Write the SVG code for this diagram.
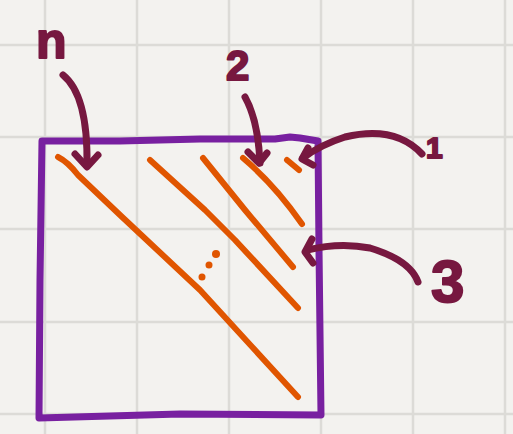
<svg xmlns="http://www.w3.org/2000/svg" width="513" height="434" viewBox="0 0 513 434">
<style>
.grid{stroke:#dcdbd7;stroke-width:2.5;fill:none}
.box{stroke:#7820a0;stroke-width:7;fill:none;stroke-linejoin:round;stroke-linecap:round}
.diag{stroke:#e05500;stroke-width:6;fill:none;stroke-linecap:round;stroke-linejoin:round}
.arr{stroke:#771840;stroke-width:7;fill:none;stroke-linecap:round;stroke-linejoin:round}
.lbl{font-family:"Liberation Sans",Arial,sans-serif;font-weight:bold;fill:#771840;stroke:#771840;stroke-width:2;stroke-linejoin:round}
</style>
<rect width="513" height="434" fill="#f3f2ef"/>
<g id="grid" class="grid">
<path d="M45 0V434M137 0V434M229 0V434M321 0V434M413 0V434M505 0V434"/>
<path d="M0 45H513M0 137H513M0 229H513M0 322H513M0 414H513"/>
</g>
<g id="matrix">
<path class="box" d="M42 141L120 141L200 139L275 139L290 137L300 138L318 141L319 250L321 415L180 414L39 418L40 280Z"/>
</g>
<g id="diagonals" class="diag">
<path d="M58 157Q68 162 78 175L120 215L200 290L298 397"/>
<path d="M150 160L205 210L235 240L298 308"/>
<path d="M203 158L245 210L293 267"/>
<path d="M243 158Q275 185 302 224"/>
<path d="M287 160L299 170"/>
</g>
<g id="dots" fill="#e05500">
<circle cx="216" cy="254" r="4"/>
<circle cx="209" cy="265" r="3.5"/>
<circle cx="202" cy="277" r="3.5"/>
</g>
<g id="connectors" class="arr">
<path d="M63 75Q88 95 87 165"/>
<path d="M75 154L87 167L98 155"/>
<path d="M245 97Q258 120 260 163"/>
<path d="M248 152L259 163L267 153"/>
<path d="M422 154Q395 125 345 137Q320 145 303 158"/>
<path d="M308 148L302 159L313 165"/>
<path d="M418 282Q410 260 370 248Q340 242 307 250"/>
<path d="M312 239L305 252L313 263"/>
</g>
<g id="labels">
<text class="lbl" x="36" y="58" font-size="50">n</text>
<text class="lbl" x="226" y="80" font-size="42">2</text>
<text class="lbl" x="426" y="158" font-size="30">1</text>
<text class="lbl" x="431" y="302" font-size="60">3</text>
</g>
</svg>
